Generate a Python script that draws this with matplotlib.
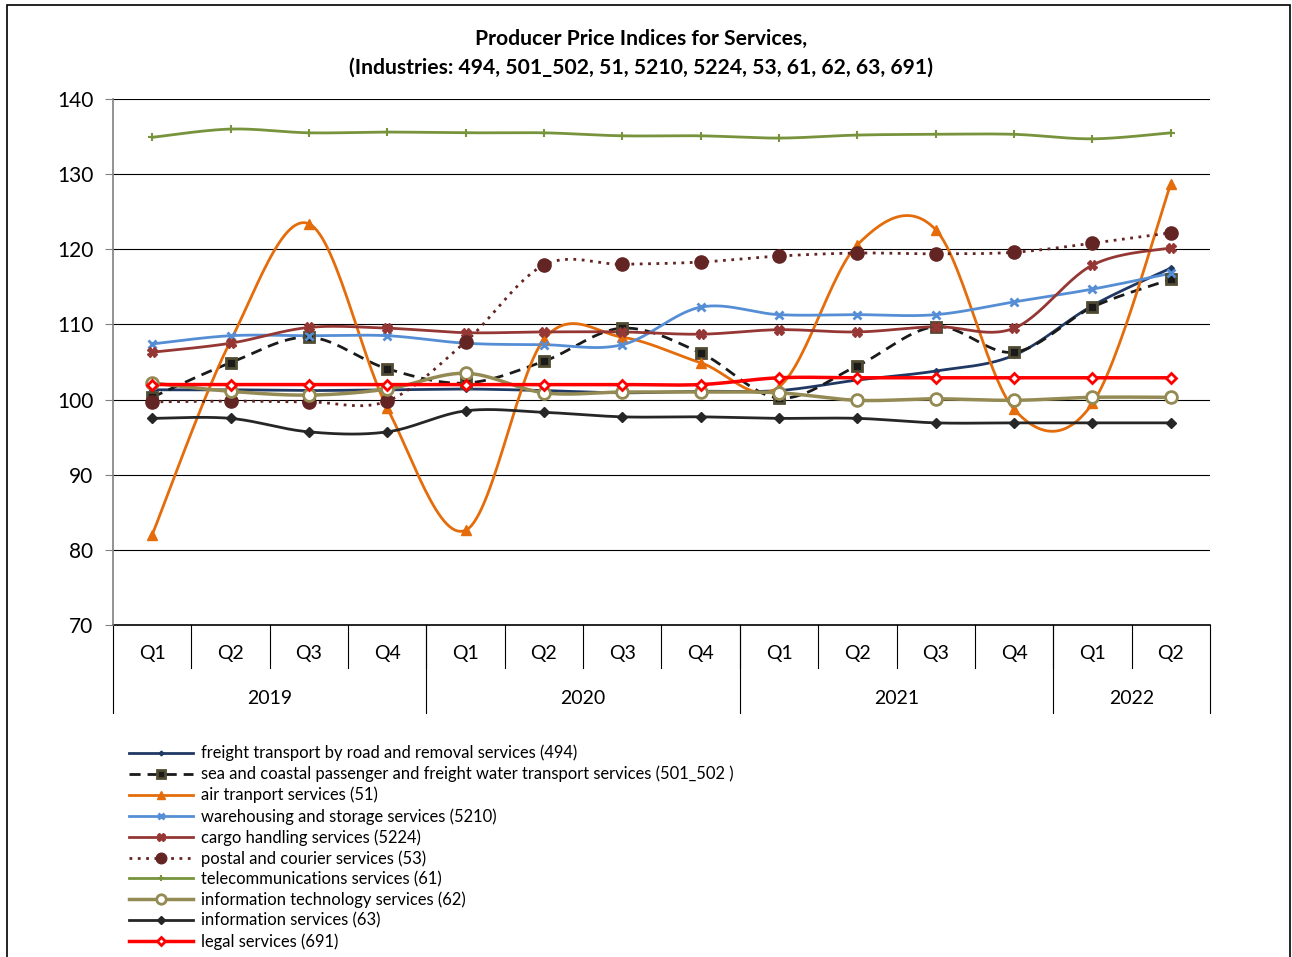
import numpy as np
import matplotlib
matplotlib.use("Agg")
import matplotlib.pyplot as plt
from matplotlib.lines import Line2D
from matplotlib.patches import Rectangle

plt.rcParams['font.family'] = ['Lato', 'DejaVu Sans']

# data ------------------------------------------------------------------
quarters = ["Q1", "Q2", "Q3", "Q4"] * 3 + ["Q1", "Q2"]
years = ["2019", "2020", "2021", "2022"]
year_len = [4, 4, 4, 2]

road_494 = [101.3, 101.3, 101.2, 101.3, 101.4, 101.2, 100.9, 101.1, 101.2, 102.6, 103.8, 105.9, 112.5, 117.5]
sea_501_502 = [100.3, 104.9, 108.3, 104.1, 102.2, 105.1, 109.5, 106.2, 100.2, 104.5, 109.7, 106.3, 112.3, 116.0]
air_51 = [82.0, 107.8, 123.4, 98.9, 82.6, 108.0, 108.3, 104.9, 101.7, 120.6, 122.6, 98.7, 99.5, 128.7]
wareh_5210 = [107.4, 108.5, 108.5, 108.5, 107.5, 107.3, 107.3, 112.3, 111.3, 111.3, 111.3, 113.0, 114.7, 116.8]
cargo_5224 = [106.3, 107.5, 109.6, 109.5, 108.9, 109.0, 109.0, 108.7, 109.3, 109.0, 109.7, 109.5, 117.9, 120.2]
postal_53 = [99.7, 99.8, 99.7, 99.8, 107.7, 117.9, 118.0, 118.3, 119.1, 119.5, 119.4, 119.6, 120.8, 122.2]
telecom_61 = [134.9, 136.0, 135.5, 135.6, 135.5, 135.5, 135.1, 135.1, 134.8, 135.2, 135.3, 135.3, 134.7, 135.5]
it_62 = [102.2, 101.1, 100.6, 101.4, 103.5, 100.9, 101.0, 101.0, 100.9, 99.9, 100.1, 99.9, 100.3, 100.3]
info_63 = [97.5, 97.5, 95.7, 95.7, 98.5, 98.3, 97.7, 97.7, 97.5, 97.5, 96.9, 96.9, 96.9, 96.9]
legal_691 = [102.0, 102.0, 102.0, 102.0, 102.0, 102.0, 102.0, 102.0, 102.9, 102.9, 102.9, 102.9, 102.9, 102.9]


# excel-like smoothing (catmull-rom) --------------------------------------
def smooth(x, y, n=30):
    x = np.asarray(x, float)
    y = np.asarray(y, float)
    px = np.concatenate([[x[0]], x, [x[-1]]])
    py = np.concatenate([[y[0]], y, [y[-1]]])
    xs, ys = [], []
    t = np.linspace(0, 1, n)
    for i in range(1, len(px) - 2):
        p0, p1, p2, p3 = (np.array([px[j], py[j]]) for j in range(i - 1, i + 3))
        c1 = p1 + (p2 - p0) / 6
        c2 = p2 - (p3 - p1) / 6
        b = ((1 - t) ** 3)[:, None] * p1 + (3 * (1 - t) ** 2 * t)[:, None] * c1 \
            + (3 * (1 - t) * t ** 2)[:, None] * c2 + (t ** 3)[:, None] * p2
        xs.append(b[:, 0])
        ys.append(b[:, 1])
    return np.concatenate(xs), np.concatenate(ys)


series = [
    ("freight transport by road and removal services (494)", road_494,
     dict(color="#1F3864", ls="-", lw=2), dict(marker="D", ms=3, mfc="#1F3864", mec="#1F3864")),
    ("sea and coastal passenger and freight water transport services (501_502 )", sea_501_502,
     dict(color="#1a1a1a", ls=(0, (4, 2.5)), lw=2), dict(marker="s", ms=7.5, mfc="#1a1a1a", mec="#4F4B32", mew=2)),
    ("air tranport services (51)", air_51,
     dict(color="#E46C0A", ls="-", lw=2), dict(marker="^", ms=7, mfc="#E46C0A", mec="#E46C0A")),
    ("warehousing and storage services (5210)", wareh_5210,
     dict(color="#558ED5", ls="-", lw=2), dict(marker="x", ms=6, mfc="#558ED5", mec="#558ED5", mew=2)),
    ("cargo handling services (5224)", cargo_5224,
     dict(color="#953735", ls="-", lw=2), dict(marker="X", ms=7, mfc="#953735", mec="#953735")),
    ("postal and courier services (53)", postal_53,
     dict(color="#632523", ls=(0, (1, 2)), lw=2), dict(marker="o", ms=9.5, mfc="#632523", mec="#632523")),
    ("telecommunications services (61)", telecom_61,
     dict(color="#77933C", ls="-", lw=2), dict(marker="+", ms=6, mfc="#77933C", mec="#77933C", mew=1.5)),
    ("information technology services (62)", it_62,
     dict(color="#948A54", ls="-", lw=2.5), dict(marker="o", ms=8.5, mfc="white", mec="#948A54", mew=2)),
    ("information services (63)", info_63,
     dict(color="#262626", ls="-", lw=2), dict(marker="D", ms=5, mfc="#262626", mec="#262626")),
    ("legal services (691)", legal_691,
     dict(color="#FF0000", ls="-", lw=2.5), dict(marker="D", ms=5, mfc="white", mec="#FF0000", mew=2)),
]

fig = plt.figure(figsize=(12.92, 9.57), dpi=100)
ax = fig.add_axes([113 / 1292, 1 - 625 / 957, 1097 / 1292, 526 / 957])

x = np.arange(len(quarters))
handles = []
for label, vals, lkw, mkw in series:
    sx, sy = smooth(x, vals)
    ax.plot(sx, sy, **lkw, zorder=3)
    ax.plot(x, vals, ls="none", **mkw, zorder=4)
    leg_mkw = dict(mkw)
    leg_mkw["ms"] = mkw["ms"] * 0.8
    handles.append(Line2D([0], [0], **lkw, **leg_mkw, label=label))

ax.set_xlim(-0.5, len(quarters) - 0.5)
ax.set_ylim(70, 140)
ax.set_yticks(np.arange(70, 141, 10))
for v in np.arange(80, 141, 10):
    ax.axhline(v, color="black", lw=0.8, zorder=1)
for s in ["top", "right", "bottom"]:
    ax.spines[s].set_visible(False)
ax.spines["left"].set_color("#808080")
ax.spines["left"].set_linewidth(1.2)
ax.axhline(70, color="black", lw=1.2, zorder=1, clip_on=False)
ax.tick_params(axis="y", labelsize=15, length=6, color="#808080", pad=8)
ax.set_xticks([])

# category axis (quarters + years)
tr = ax.get_xaxis_transform()
q_bot = -43 / 526
y_bot = -88 / 526
for i, q in enumerate(quarters):
    ax.text(i, -29 / 526, q, transform=tr, ha="center", va="center", fontsize=14)
for i in range(1, len(quarters)):
    ax.plot([i - 0.5, i - 0.5], [0, q_bot], transform=tr, color="black", lw=0.8, clip_on=False)
start = 0
edges = [-0.5]
for yr, n in zip(years, year_len):
    ax.text(start + n / 2 - 0.5, -73 / 526, yr, transform=tr, ha="center", va="center", fontsize=14)
    start += n
    edges.append(start - 0.5)
for e in edges:
    ax.plot([e, e], [0, y_bot], transform=tr, color="black", lw=0.8, clip_on=False)

fig.text(0.496, 1 - 39 / 957, "Producer Price Indices for Services,", ha="center", va="center",
         fontsize=15.2, fontweight="bold")
fig.text(0.496, 1 - 68 / 957, "(Industries: 494, 501_502, 51, 5210, 5224, 53, 61, 62, 63, 691)",
         ha="center", va="center", fontsize=15.2, fontweight="bold")

fig.legend(handles=handles, loc="upper left", bbox_to_anchor=(114 / 1292, 1 - 730 / 957),
           frameon=False, fontsize=11.9, handlelength=3.9, handletextpad=0.45, labelspacing=0.27)

fig.patches.append(Rectangle((7 / 1292, -0.01), 1283 / 1292, 1 - 5 / 957 + 0.01,
                             transform=fig.transFigure, fill=False, ec="black", lw=1.2))

plt.savefig("out.png", dpi=100)
